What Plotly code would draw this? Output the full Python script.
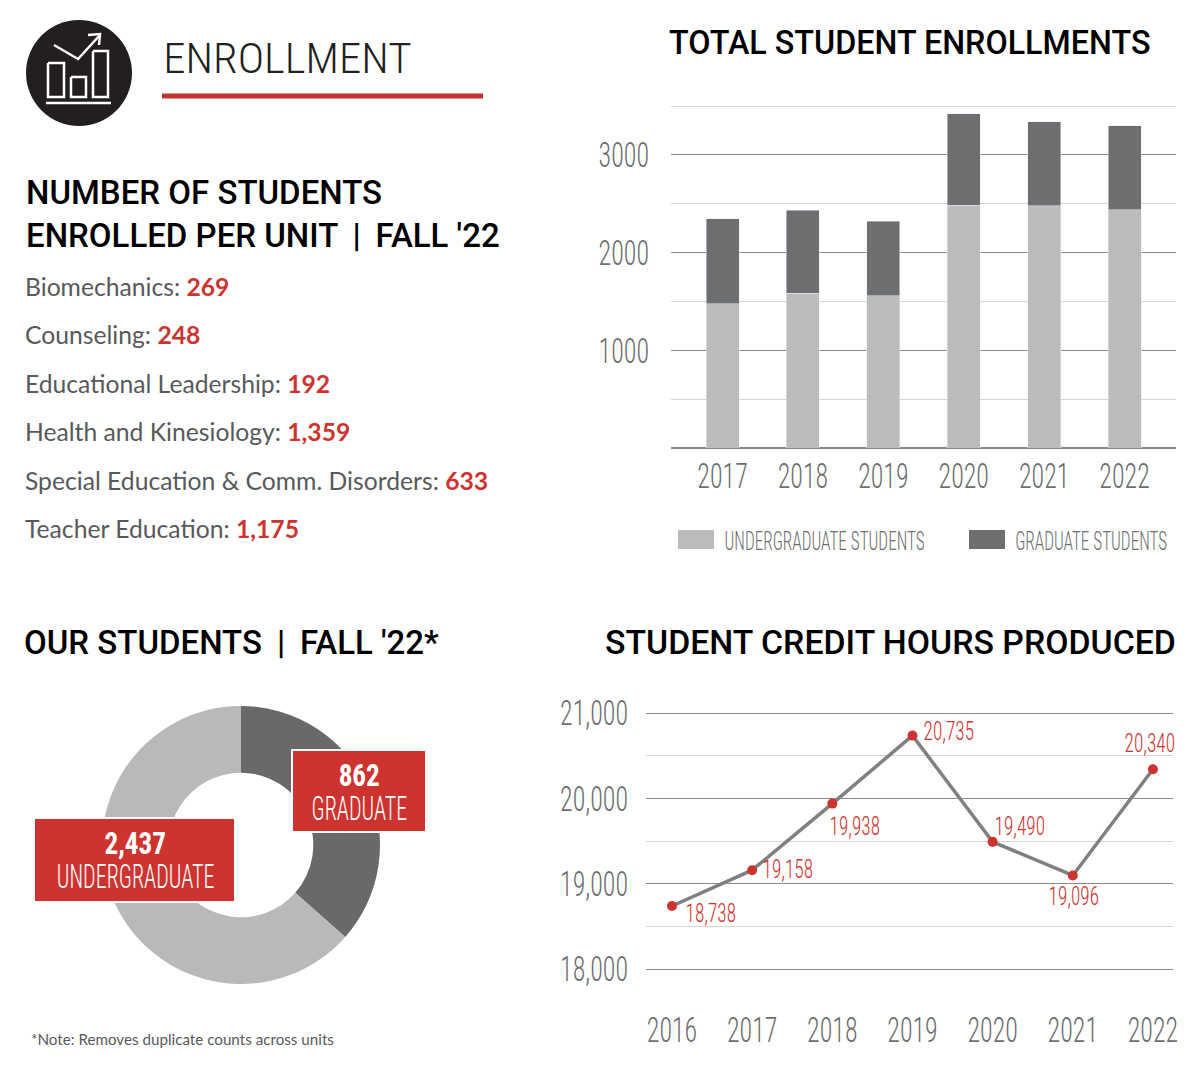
import json

import plotly.graph_objects as go

W, H = 1200, 1074
RED = "#cd3430"
# no condensed face is installed, so Roboto gets squeezed at the end of the page (see SQUEEZE)
NARROW = "Roboto Condensed, Roboto"
HEAD = "Roboto"

# total enrollments
bar_years = [2017, 2018, 2019, 2020, 2021, 2022]
undergrad = [1474, 1586, 1556, 2487, 2482, 2437]
graduate = [870, 850, 767, 932, 855, 862]

# credit hours
sch_years = [2016, 2017, 2018, 2019, 2020, 2021, 2022]
sch_hours = [18738, 19158, 19938, 20735, 19490, 19096, 20340]
sch_labels = ["18,738", "19,158", "19,938", "20,735", "19,490", "19,096", "20,340"]
sch_label_dx = [39, 36, 23, 37, 27, 1, -3]
sch_label_dy = [-7, 1, -23, 4, 15, -21, 26]

# donut: slice shares as drawn, the 862 / 2,437 labels are not in proportion to them
donut_names = ["Graduate", "Undergraduate"]
donut_shares = [36.5, 63.5]

units = ["Biomechanics", "Counseling", "Educational Leadership", "Health and Kinesiology",
         "Special Education &amp; Comm. Disorders", "Teacher Education"]
unit_counts = ["269", "248", "192", "1,359", "633", "1,175"]

# horizontal squeeze per font size
squeeze_by_size = {35: 0.74, 43: 1.04, 26: 0.66, 25: 0.77, 33: 0.67, 32: 0.85}

SQUEEZE = """
document.body.style.margin = '0';
var squeeze = %s;
document.querySelectorAll('svg text').forEach(function (t) {
    if (t.style.fontFamily.indexOf('Condensed') < 0) return;
    var k = squeeze[parseInt(t.style.fontSize)] || 0.7;
    t.setAttribute('textLength', t.getComputedTextLength() * k);
    t.setAttribute('lengthAdjust', 'spacingAndGlyphs');
});
""" % json.dumps(squeeze_by_size)


def px(x):
    return x / W


def py(y):
    return 1 - y / H


def label(fig, x, y, text, size, color="#000000", family=HEAD, anchor="left", weight=None):
    fig.add_annotation(xref="paper", yref="paper", x=px(x), y=py(y), text=text, showarrow=False,
                       xanchor=anchor, yanchor="middle", borderpad=0,
                       font=dict(size=size, color=color, family=family, weight=weight))


def rect(fig, x0, y0, x1, y1, fill, line=None):
    fig.add_shape(type="rect", xref="paper", yref="paper", x0=px(x0), y0=py(y0), x1=px(x1), y1=py(y1),
                  fillcolor=fill, line=dict(color=line, width=2) if line else dict(width=0), layer="above")


def stroke(fig, pts, width=2.5):
    path = "M " + " L ".join(f"{px(a)} {py(b)}" for a, b in pts)
    fig.add_shape(type="path", xref="paper", yref="paper", path=path,
                  line=dict(color="white", width=width), layer="above")


fig = go.Figure()

fig.add_trace(go.Bar(x=bar_years, y=undergrad, marker_color="#bbbbbb", width=0.41, xaxis="x", yaxis="y"))
fig.add_trace(go.Bar(x=bar_years, y=graduate, marker_color="#6d6e70", width=0.41, xaxis="x", yaxis="y"))

fig.add_trace(go.Scatter(x=sch_years, y=sch_hours, mode="lines+markers", xaxis="x2", yaxis="y2",
                         line=dict(color="#808080", width=3.5),
                         marker=dict(color=RED, size=10)))

fig.add_trace(go.Pie(labels=donut_names, values=donut_shares, hole=0.52, sort=False, direction="clockwise",
                     rotation=0, textinfo="none", marker=dict(colors=["#696969", "#b9b9b9"], line=dict(width=0)),
                     domain=dict(x=[px(102), px(380)], y=[py(984), py(706)])))

tick_font = dict(family=NARROW, size=35, color="#6d6e70", weight=300)
fig.update_layout(
    width=W, height=H, margin=dict(l=0, r=0, t=0, b=0), paper_bgcolor="white", plot_bgcolor="white",
    barmode="stack", showlegend=False,
    xaxis=dict(domain=[px(671), px(1176)], range=[2016.359, 2022.64], tickvals=bar_years, showgrid=False,
               zeroline=False, showline=False, ticks="", ticklabelstandoff=4, automargin=False,
               tickfont=tick_font),
    # ranges run past the last gridline, plotly drops gridlines within 1px of the edge
    yaxis=dict(domain=[py(448), py(103.6)], range=[0, 3525], tickvals=[1000, 2000, 3000], gridcolor="#8a8a8a",
               gridwidth=1, zeroline=True, zerolinecolor="#8a8a8a", ticks="", ticklabelstandoff=21,
               automargin=False, tickfont=tick_font,
               minor=dict(dtick=500, showgrid=True, gridcolor="#d4d4d4", gridwidth=1)),
    xaxis2=dict(domain=[px(646), px(1173)], range=[2015.676, 2022.25], tickvals=sch_years, showgrid=False,
                zeroline=False, showline=False, ticks="", ticklabelstandoff=35, anchor="y2", automargin=False,
                tickfont=tick_font),
    yaxis2=dict(domain=[py(971.13), py(710.87)], range=[17975, 21025], tickvals=[18000, 19000, 20000, 21000],
                ticktext=["18,000", "19,000", "20,000", "21,000"], gridcolor="#8a8a8a", gridwidth=1,
                zeroline=False, ticks="", ticklabelstandoff=17, anchor="x2", automargin=False,
                tickfont=tick_font,
                minor=dict(dtick=500, showgrid=True, gridcolor="#d4d4d4", gridwidth=1)),
)

# data labels on the line
for yr, val, txt, dx, dy in zip(sch_years, sch_hours, sch_labels, sch_label_dx, sch_label_dy):
    fig.add_annotation(xref="x2", yref="y2", x=yr, y=val, text=txt, showarrow=False, xshift=dx, yshift=dy,
                       font=dict(family=NARROW, size=25, color=RED, weight=300))

# icon
fig.add_shape(type="circle", xref="paper", yref="paper", x0=px(26), x1=px(132), y0=py(126), y1=py(20),
              fillcolor="#231f20", line=dict(width=0), layer="above")
stroke(fig, [(48, 63), (64, 63), (64, 97), (48, 97), (48, 63)])
stroke(fig, [(71, 77), (86, 77), (86, 97), (71, 97), (71, 77)])
stroke(fig, [(93, 51), (108, 51), (108, 97), (93, 97), (93, 51)])
stroke(fig, [(46, 103), (111, 103)])
stroke(fig, [(54, 45), (78, 59), (100, 35)])
stroke(fig, [(88, 35), (100, 34), (99, 45)])

# header
label(fig, 287, 58, "ENROLLMENT", 43, color="#231f20", family=NARROW, anchor="center", weight=300)
rect(fig, 162, 93.5, 483, 98.5, "#c43232")

# section titles
label(fig, 25, 192, "NUMBER OF STUDENTS", 33, weight=500)
label(fig, 25, 235, "ENROLLED PER UNIT \u2009|\u2009 FALL '22", 33, weight=500)
label(fig, 668, 43, "TOTAL STUDENT ENROLLMENTS", 32.3, weight=500)
label(fig, 23, 642, "OUR STUDENTS \u2009|\u2009 FALL '22*", 33, weight=500)
label(fig, 604, 642, "STUDENT CREDIT HOURS PRODUCED", 33.8, weight=500)

# unit list
for i, (unit, n) in enumerate(zip(units, unit_counts)):
    label(fig, 24, 286.5 + i * 48.4,
          f"{unit}: <span style='color:{RED}'><b>{n}</b></span>", 24.7, color="#58595b", family="Lato")

# bar legend
rect(fig, 678, 530, 714, 549, "#bbbbbb")
rect(fig, 969, 530, 1005, 549, "#6d6e70")
label(fig, 824, 541, "UNDERGRADUATE STUDENTS", 26, color="#6d6e70", family=NARROW, anchor="center", weight=300)
label(fig, 1091, 541, "GRADUATE STUDENTS", 26, color="#6d6e70", family=NARROW, anchor="center", weight=300)

# donut callouts
rect(fig, 292, 750, 426, 832, RED, line="white")
rect(fig, 34, 818, 235, 902, RED, line="white")
label(fig, 359, 775, "<b>862</b>", 32, color="white", family=NARROW, anchor="center")
label(fig, 359, 808, "GRADUATE", 33, color="white", family=NARROW, anchor="center", weight=300)
label(fig, 135, 843, "<b>2,437</b>", 32, color="white", family=NARROW, anchor="center")
label(fig, 135, 876, "UNDERGRADUATE", 33, color="white", family=NARROW, anchor="center", weight=300)

label(fig, 30, 1039, "*Note: Removes duplicate counts across units", 15.2, color="#58595b", family="Lato")

fig.write_html("out.html", post_script=SQUEEZE, config={"displayModeBar": False})
